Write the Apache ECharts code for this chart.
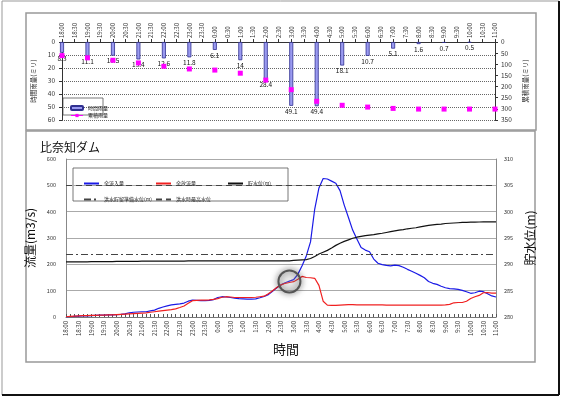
<!DOCTYPE html>
<html>
<head>
<meta charset="utf-8">
<script src="https://cdn.jsdelivr.net/npm/echarts@6/dist/echarts.min.js"></script>
<style>
  html, body { margin: 0; padding: 0; background: #fff; }
  #chart { width: 562px; height: 397px; }
</style>
</head>
<body>
<div id="chart"></div>
<script>
// 上段: 雨量 (30分刻みの軸、毎正時の値)
const rainTimes = (function () {
  let list = [];
  for (let m = 0; m <= 1020; m += 30) {
    let h = (18 + Math.floor(m / 60)) % 24;
    list.push(h + ':' + (m % 60 === 0 ? '00' : '30'));
  }
  return list;
})();
const hourlyRain = [8.3, null, 11.1, null, 10.5, null, 13.4, null, 12.6, null, 11.8, null,
  6.1, null, 14, null, 28.4, null, 49.1, null, 49.4, null, 18.1, null, 10.7, null,
  5.1, null, 1.6, null, 0.7, null, 0.5, null, null];
const totalRain = [61, null, 71, null, 82, null, 94, null, 109, null, 121, null,
  126, null, 140, null, 171, null, 214, null, 266, null, 284, null, 292, null,
  298, null, 301, null, 301, null, 301, null, 301];

// 下段: 流量・水位 (10分刻み)
const flowTimes = (function () {
  let list = [];
  for (let m = 0; m <= 1020; m += 10) {
    let h = (18 + Math.floor(m / 60)) % 24;
    let mm = m % 60;
    list.push(h + ':' + (mm < 10 ? '0' + mm : mm));
  }
  return list;
})();
const inflow = [0, 1, 2, 3, 4, 4, 5, 6, 7, 7, 8, 8,
  9, 10, 12, 16, 18, 19, 20, 20, 23, 26, 33, 38,
  42, 46, 48, 50, 53, 60, 64, 63, 62, 62, 63, 66,
  74, 77, 76, 74, 72, 70, 69, 68, 68, 69, 73, 78,
  85, 98, 111, 122, 130, 136, 142, 162, 195, 232, 285, 410,
  490, 526, 524, 516, 508, 480, 425, 378, 330, 296, 264, 254,
  248, 220, 204, 199, 196, 194, 197, 195, 189, 181, 174, 166,
  158, 149, 135, 128, 124, 117, 111, 108, 107, 105, 101, 96,
  90, 92, 98, 96, 88, 80, 76];
const outflow = [1, 2, 3, 4, 5, 5, 6, 6, 7, 7, 8, 8,
  9, 10, 11, 12, 13, 14, 15, 16, 18, 20, 22, 24,
  26, 28, 31, 36, 42, 52, 62, 63, 64, 64, 65, 67,
  70, 75, 77, 76, 74, 74, 74, 74, 74, 75, 77, 79,
  88, 100, 112, 122, 128, 131, 134, 143, 154, 150, 149, 147,
  120, 60, 45, 44, 44, 45, 46, 47, 47, 46, 46, 46,
  46, 46, 46, 46, 45, 45, 45, 45, 45, 45, 45, 45,
  45, 45, 45, 45, 45, 45, 46, 48, 54, 55, 55, 60,
  70, 77, 82, 92, 93, 91, 91];
const waterLevel = [290.45, 290.45, 290.45, 290.45, 290.45, 290.45, 290.5, 290.5, 290.5, 290.5, 290.5, 290.5,
  290.55, 290.55, 290.55, 290.55, 290.55, 290.55, 290.6, 290.6, 290.6, 290.6, 290.6, 290.6,
  290.6, 290.6, 290.6, 290.6, 290.6, 290.65, 290.65, 290.65, 290.65, 290.65, 290.65, 290.65,
  290.65, 290.65, 290.65, 290.65, 290.65, 290.65, 290.65, 290.65, 290.65, 290.65, 290.65, 290.65,
  290.65, 290.65, 290.65, 290.65, 290.65, 290.65, 290.75, 290.8, 290.85, 290.9, 291.1, 291.5,
  291.95, 292.3, 292.65, 293.1, 293.6, 294.0, 294.35, 294.65, 294.95, 295.15, 295.3, 295.45,
  295.55, 295.65, 295.8, 295.9, 296.05, 296.2, 296.35, 296.5, 296.6, 296.75, 296.85, 296.95,
  297.1, 297.25, 297.4, 297.5, 297.6, 297.65, 297.75, 297.8, 297.85, 297.9, 297.95, 297.98,
  298.0, 298.02, 298.04, 298.05, 298.05, 298.05, 298.05];
const prepLevel = 292.0;   // 洪水貯留準備水位
const maxLevel = 305.0;    // 洪水時最高水位

const FONT = '"Noto Sans CJK JP", sans-serif';
const smallText = { fontFamily: FONT, fontSize: 5, color: '#222' };
// 凡例は線だけ (記号なし)
const lineLegend = function (left, top, name) {
  return { left: left, top: top, itemWidth: 15, itemHeight: 3, textStyle: smallText,
    itemStyle: { opacity: 0 }, data: [name] };
};

let chart = echarts.init(document.getElementById('chart'));

let option = {
  animation: false,
  backgroundColor: '#fff',
  textStyle: { fontFamily: FONT },
  title: {
    text: '比奈知ダム',
    left: 35, top: 136,
    textStyle: { fontFamily: FONT, fontSize: 12, fontWeight: 'normal', color: '#111' }
  },
  legend: [
    { left: 65, top: 100, itemWidth: 12, itemHeight: 4, itemGap: 2, orient: 'vertical',
      textStyle: { fontFamily: FONT, fontSize: 5, color: '#222' },
      data: [
        { name: '時間雨量' },
        { name: '累積雨量', lineStyle: { opacity: 1, width: 1, color: '#ff00ff' } }
      ] },
    lineLegend(78, 176, '全流入量'),
    lineLegend(150, 176, '全放流量'),
    lineLegend(222, 176, '貯水位(m)'),
    lineLegend(78, 192, '洪水貯留準備水位(m)'),
    lineLegend(150, 192, '洪水時最高水位')
  ],
  grid: [
    { left: 62, right: 67, top: 42, height: 78 },
    { left: 66, right: 66, top: 159, height: 158, show: false }
  ],
  xAxis: [
    {
      gridIndex: 0, type: 'category', position: 'top', boundaryGap: false,
      data: rainTimes,
      axisLine: { lineStyle: { color: '#333' } },
      axisTick: { show: true, interval: 0, length: 3, lineStyle: { color: '#333' } },
      axisLabel: { interval: 0, rotate: 90, fontSize: 6, color: '#333', margin: 4, fontFamily: FONT }
    },
    {
      gridIndex: 1, type: 'category', boundaryGap: false,
      data: flowTimes,
      name: '時間', nameLocation: 'middle', nameGap: 26,
      nameTextStyle: { fontFamily: FONT, fontSize: 13, color: '#111', padding: [0, 0, 0, 10] },
      axisLine: { lineStyle: { color: '#777' } },
      axisTick: { show: true, inside: true, interval: 0, length: 3, lineStyle: { color: '#555' } },
      axisLabel: { interval: 2, rotate: 90, fontSize: 6, color: '#333', margin: 4, fontFamily: FONT }
    }
  ],
  yAxis: [
    {
      gridIndex: 0, type: 'value', inverse: true, min: 0, max: 60, interval: 10,
      name: '時間雨量(ミリ)', nameLocation: 'middle', nameGap: 12,
      nameTextStyle: { fontFamily: FONT, fontSize: 6.5, color: '#222' },
      axisLine: { show: true, lineStyle: { color: '#333' } },
      axisTick: { show: true, length: 3 },
      axisLabel: { fontSize: 6.5, color: '#333', margin: 7 },
      splitLine: { lineStyle: { color: '#666', type: 'dotted' } }
    },
    {
      gridIndex: 0, type: 'value', inverse: true, min: 0, max: 350, interval: 50,
      name: '累積雨量(ミリ)', nameLocation: 'middle', nameGap: 16,
      nameTextStyle: { fontFamily: FONT, fontSize: 6.5, color: '#222' },
      axisLine: { show: true, lineStyle: { color: '#333' } },
      axisTick: { show: true, length: 3 },
      axisLabel: { fontSize: 6.5, color: '#333', margin: 6 },
      splitLine: { show: false }
    },
    {
      gridIndex: 1, type: 'value', min: 0, max: 600, interval: 100,
      name: '流量(m3/s)', nameLocation: 'middle', nameGap: 15,
      nameTextStyle: { fontFamily: FONT, fontSize: 12, color: '#111' },
      axisLine: { show: true, lineStyle: { color: '#888' } },
      axisTick: { show: false },
      axisLabel: { fontSize: 5.5, color: '#333', margin: 10 },
      splitLine: { lineStyle: { color: '#aaa', width: 1 } }
    },
    {
      gridIndex: 1, type: 'value', min: 280, max: 310, interval: 5,
      name: '貯水位(m)', nameLocation: 'middle', nameGap: 16,
      nameTextStyle: { fontFamily: FONT, fontSize: 12, color: '#111' },
      axisLine: { show: true, lineStyle: { color: '#888' } },
      axisTick: { show: false },
      axisLabel: { fontSize: 5.5, color: '#333', margin: 8 },
      splitLine: { show: false }
    }
  ],
  series: [
    {
      name: '時間雨量', type: 'bar', xAxisIndex: 0, yAxisIndex: 0,
      data: hourlyRain, barWidth: 4,
      itemStyle: { color: '#9a9af0', borderColor: '#303090', borderWidth: 0.8 },
      label: {
        show: true, position: 'bottom', distance: 2, fontSize: 6.5, color: '#111',
        formatter: function (p) { return p.value == null ? '' : p.value; }
      }
    },
    {
      name: '累積雨量', type: 'line', xAxisIndex: 0, yAxisIndex: 1,
      data: totalRain, connectNulls: false,
      symbol: 'rect', symbolSize: 5, showAllSymbol: true,
      itemStyle: { color: '#ff00ff' },
      lineStyle: { width: 0, opacity: 0 }
    },
    {
      name: '全流入量', type: 'line', xAxisIndex: 1, yAxisIndex: 2,
      data: inflow, symbol: 'none',
      lineStyle: { color: '#1a1ae6', width: 1.2 }, itemStyle: { color: '#1a1ae6' }
    },
    {
      name: '全放流量', type: 'line', xAxisIndex: 1, yAxisIndex: 2,
      data: outflow, symbol: 'none',
      lineStyle: { color: '#f02020', width: 1.2 }, itemStyle: { color: '#f02020' }
    },
    {
      name: '貯水位(m)', type: 'line', xAxisIndex: 1, yAxisIndex: 3,
      data: waterLevel, symbol: 'none',
      lineStyle: { color: '#111', width: 1.2 }, itemStyle: { color: '#111' }
    },
    {
      name: '洪水貯留準備水位(m)', type: 'line', xAxisIndex: 1, yAxisIndex: 3,
      data: [], symbol: 'none',
      lineStyle: { color: '#444', width: 1, type: [7, 3, 2, 3] }, itemStyle: { color: '#444' },
      markLine: {
        silent: true, symbol: 'none', label: { show: false },
        lineStyle: { color: '#444', width: 1, type: [7, 3, 2, 3] },
        data: [{ yAxis: prepLevel }]
      }
    },
    {
      name: '洪水時最高水位', type: 'line', xAxisIndex: 1, yAxisIndex: 3,
      data: [], symbol: 'none',
      lineStyle: { color: '#444', width: 1, type: [6, 4] }, itemStyle: { color: '#444' },
      markLine: {
        silent: true, symbol: 'none', label: { show: false },
        lineStyle: { color: '#444', width: 1, type: [6, 4] },
        data: [{ yAxis: maxLevel }]
      }
    }
  ],
  graphic: [
    { type: 'rect', silent: true, z: -1, shape: { x: 2, y: 1, width: 557, height: 394 },
      style: { fill: 'none', stroke: '#999', lineWidth: 1 } },
    { type: 'line', silent: true, shape: { x1: 559, y1: 1, x2: 559, y2: 395 },
      style: { stroke: '#111', lineWidth: 2 } },
    { type: 'line', silent: true, shape: { x1: 2, y1: 395, x2: 559, y2: 395 },
      style: { stroke: '#111', lineWidth: 2 } },
    { type: 'rect', silent: true, z: -1, shape: { x: 26, y: 13, width: 510, height: 117 },
      style: { fill: 'none', stroke: '#999', lineWidth: 1.5 } },
    { type: 'rect', silent: true, z: -1, shape: { x: 26, y: 131, width: 509, height: 231 },
      style: { fill: 'none', stroke: '#999', lineWidth: 1.5 } },
    { type: 'rect', silent: true, z: -1, shape: { x: 63, y: 98, width: 40, height: 17 },
      style: { fill: '#fff', stroke: '#555', lineWidth: 0.8 } },
    { type: 'rect', silent: true, z: -1, shape: { x: 73, y: 168, width: 215, height: 33 },
      style: { fill: '#fff', stroke: '#555', lineWidth: 0.8 } }
  ]
};

chart.setOption(option);

// 拡大鏡のような丸印 (2:50 付近)
let pt = chart.convertToPixel({ xAxisIndex: 1, yAxisIndex: 2 }, ['2:50', 135]);
chart.setOption({
  graphic: option.graphic.concat([
    { type: 'circle', silent: true, z: 10, shape: { cx: pt[0], cy: pt[1], r: 11 },
      style: { fill: 'rgba(255,255,255,0.15)', stroke: '#555', lineWidth: 2,
        shadowBlur: 6, shadowColor: 'rgba(0,0,0,0.7)' } }
  ])
});
</script>
</body>
</html>
